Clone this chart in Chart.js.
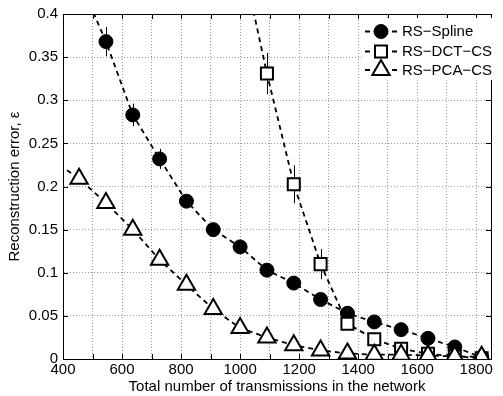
<!DOCTYPE html>
<html>
<head>
<meta charset="utf-8">
<script src="https://cdn.jsdelivr.net/npm/chart.js@4.4.0/dist/chart.umd.min.js"></script>
<style>
  html, body { margin: 0; padding: 0; background: #fff; }
  #wrap { width: 503px; height: 396px; }
</style>
</head>
<body>
<div id="wrap"><canvas id="errChart" width="503" height="396"></canvas></div>
<script>
// --- data ---
const seriesNames = ['RS\u2212Spline', 'RS\u2212DCT\u2212CS', 'RS\u2212PCA\u2212CS'];

const splineX = [454.5, 545.5, 636.4, 727.3, 818.2, 909.1, 1000, 1090.9, 1181.8, 1272.7, 1363.6, 1454.5, 1545.5, 1636.4, 1727.3, 1818.2];
const splineY = [0.44, 0.368, 0.283, 0.232, 0.183, 0.150, 0.130, 0.103, 0.088, 0.069, 0.053, 0.043, 0.034, 0.024, 0.014, 0.002];
const splineErr = [0.02, 0.017, 0.013, 0.0116, 0.006, 0.005, 0.005, 0.004, 0.004, 0.003, 0.003, 0.002, 0.002, 0.002, 0.001, 0.001];

const dctX = [1000, 1090.9, 1181.8, 1272.7, 1363.6, 1454.5, 1545.5, 1636.4, 1727.3, 1818.2];
const dctY = [0.475, 0.331, 0.2025, 0.110, 0.041, 0.023, 0.012, 0.006, 0.003, 0.001];
const dctErr = [0.03, 0.024, 0.022, 0.0175, 0.006, 0.004, 0.003, 0.002, 0.001, 0.001];

const pcaX = [363.6, 454.5, 545.5, 636.4, 727.3, 818.2, 909.1, 1000, 1090.9, 1181.8, 1272.7, 1363.6, 1454.5, 1545.5, 1636.4, 1727.3, 1818.2];
const pcaY = [0.231, 0.209, 0.181, 0.150, 0.115, 0.086, 0.058, 0.036, 0.025, 0.016, 0.010, 0.0065, 0.005, 0.005, 0.004, 0.003, 0.0025];

const xTickStep = 100;
const xLabelStep = 200;
const yTickStep = 0.05;

const FONT = 'Liberation Sans, Arial, Helvetica, sans-serif';

function toPoints(xs, ys) {
    return xs.map((x, i) => ({ x: x, y: ys[i] }));
}

// error bars (thin vertical lines), drawn under the markers
const errorBars = {
    id: 'errorBars',
    beforeDatasetsDraw(chart) {
        const { ctx, chartArea, scales } = chart;
        ctx.save();
        ctx.beginPath();
        ctx.rect(chartArea.left, chartArea.top, chartArea.right - chartArea.left, chartArea.bottom - chartArea.top);
        ctx.clip();
        ctx.strokeStyle = '#000';
        ctx.lineWidth = 1;
        chart.data.datasets.forEach(ds => {
            if (!ds.err) return;
            ds.data.forEach((p, i) => {
                const px = Math.round(scales.x.getPixelForValue(p.x)) + 0.5;
                ctx.beginPath();
                ctx.moveTo(px, scales.y.getPixelForValue(p.y + ds.err[i]));
                ctx.lineTo(px, scales.y.getPixelForValue(p.y - ds.err[i]));
                ctx.stroke();
            });
        });
        ctx.restore();
    }
};

function drawMarker(ctx, style, x, y, r, fill, lw) {
    ctx.save();
    ctx.setLineDash([]);
    ctx.lineWidth = lw;
    ctx.strokeStyle = '#000';
    ctx.fillStyle = fill;
    ctx.beginPath();
    if (style === 'circle') {
        ctx.arc(x, y, r, 0, Math.PI * 2);
    } else if (style === 'rect') {
        const s = r * Math.SQRT1_2;
        ctx.rect(x - s, y - s, 2 * s, 2 * s);
    } else {
        let a = 0;
        ctx.moveTo(x + Math.sin(a) * r, y - Math.cos(a) * r);
        a += 2 * Math.PI / 3;
        ctx.lineTo(x + Math.sin(a) * r, y - Math.cos(a) * r);
        a += 2 * Math.PI / 3;
        ctx.lineTo(x + Math.sin(a) * r, y - Math.cos(a) * r);
        ctx.closePath();
    }
    ctx.fill();
    ctx.stroke();
    ctx.restore();
}

// box, inward ticks and the legend
const frame = {
    id: 'frame',
    afterDraw(chart) {
        const { ctx, chartArea: a, scales } = chart;
        ctx.save();
        ctx.strokeStyle = '#000';
        ctx.lineWidth = 1;
        ctx.strokeRect(Math.round(a.left) + 0.5, Math.round(a.top) + 0.5,
            Math.round(a.right - a.left), Math.round(a.bottom - a.top));
        ctx.beginPath();
        scales.x.ticks.forEach(t => {
            if (t.value <= scales.x.min || t.value >= scales.x.max) return;
            const px = Math.round(scales.x.getPixelForValue(t.value)) + 0.5;
            ctx.moveTo(px, a.bottom); ctx.lineTo(px, a.bottom - 5);
            ctx.moveTo(px, a.top); ctx.lineTo(px, a.top + 5);
        });
        scales.y.ticks.forEach(t => {
            if (t.value <= scales.y.min || t.value >= scales.y.max) return;
            const py = Math.round(scales.y.getPixelForValue(t.value)) + 0.5;
            ctx.moveTo(a.left, py); ctx.lineTo(a.left + 5, py);
            ctx.moveTo(a.right, py); ctx.lineTo(a.right - 5, py);
        });
        ctx.stroke();

        // legend
        const lx = 363, ly = 18, lw = 134, lh = 62;
        ctx.fillStyle = '#fff';
        ctx.fillRect(lx, ly, lw, lh);
        const rows = [31.5, 51.5, 70];
        chart.data.datasets.forEach((ds, i) => {
            const y = rows[i];
            ctx.save();
            ctx.setLineDash(ds.borderDash);
            ctx.lineWidth = ds.borderWidth;
            ctx.strokeStyle = '#000';
            ctx.beginPath();
            ctx.moveTo(lx + 2, y);
            ctx.lineTo(lx + 34, y);
            ctx.stroke();
            ctx.restore();
            drawMarker(ctx, ds.pointStyle, lx + 18, y, ds.pointRadius, ds.pointBackgroundColor, ds.pointBorderWidth);
            ctx.fillStyle = '#000';
            ctx.font = '15px ' + FONT;
            ctx.textAlign = 'left';
            ctx.textBaseline = 'middle';
            ctx.fillText(ds.label, lx + 39, y + 0.5);
        });
        ctx.restore();
    }
};

const errCanvas = document.getElementById('errChart');
new Chart(errCanvas.getContext('2d'), {
    type: 'line',
    data: {
        datasets: [{
            label: seriesNames[0],
            data: toPoints(splineX, splineY),
            err: splineErr,
            order: 2,
            borderColor: '#000',
            borderWidth: 1.8,
            borderDash: [5, 4],
            pointStyle: 'circle',
            pointRadius: 7,
            pointBackgroundColor: '#000',
            pointBorderColor: '#000',
            pointBorderWidth: 1
        }, {
            label: seriesNames[1],
            data: toPoints(dctX, dctY),
            err: dctErr,
            order: 1,
            borderColor: '#000',
            borderWidth: 1.8,
            borderDash: [5, 4],
            pointStyle: 'rect',
            pointRadius: 8.5,
            pointBackgroundColor: '#fff',
            pointBorderColor: '#000',
            pointBorderWidth: 2
        }, {
            label: seriesNames[2],
            data: toPoints(pcaX, pcaY),
            order: 0,
            borderColor: '#000',
            borderWidth: 1.8,
            borderDash: [5, 4],
            pointStyle: 'triangle',
            pointRadius: 10,
            pointBackgroundColor: '#fff',
            pointBorderColor: '#000',
            pointBorderWidth: 2
        }]
    },
    options: {
        responsive: false,
        animation: false,
        devicePixelRatio: 1,
        layout: { padding: { top: 14, right: 3, left: 0, bottom: 0 } },
        elements: { line: { tension: 0 } },
        scales: {
            x: {
                type: 'linear',
                min: 400,
                max: 1850,
                afterFit: (s) => { s.height = 37; },
                ticks: {
                    stepSize: xTickStep,
                    includeBounds: false,
                    autoSkip: false,
                    maxRotation: 0,
                    padding: 2,
                    color: '#000',
                    font: { family: FONT, size: 15 },
                    callback: (v) => {
                        const r = Math.round(v);
                        return (r % xLabelStep === 0) ? String(r) : '';
                    }
                },
                grid: { color: '#9a9a9a', lineWidth: 1, drawTicks: false },
                border: { display: true, color: '#000', dash: [1, 2] },
                title: {
                    display: true,
                    text: 'Total number of transmissions in the network',
                    color: '#000',
                    font: { family: FONT, size: 15 },
                    padding: { top: 0, bottom: 0 }
                }
            },
            y: {
                min: 0,
                max: 0.4,
                afterFit: (s) => { s.width = 63; },
                ticks: {
                    stepSize: yTickStep,
                    padding: 5,
                    color: '#000',
                    font: { family: FONT, size: 15 },
                    callback: (v) => String(+v.toFixed(2))
                },
                grid: { color: '#9a9a9a', lineWidth: 1, drawTicks: false },
                border: { display: true, color: '#000', dash: [1, 2] },
                title: {
                    display: true,
                    text: 'Reconstruction error, \u03b5',
                    color: '#000',
                    font: { family: FONT, size: 15 },
                    padding: { top: 6, bottom: 0 }
                }
            }
        },
        plugins: {
            legend: { display: false },
            tooltip: { enabled: false }
        }
    },
    plugins: [errorBars, frame]
});
</script>
</body>
</html>
